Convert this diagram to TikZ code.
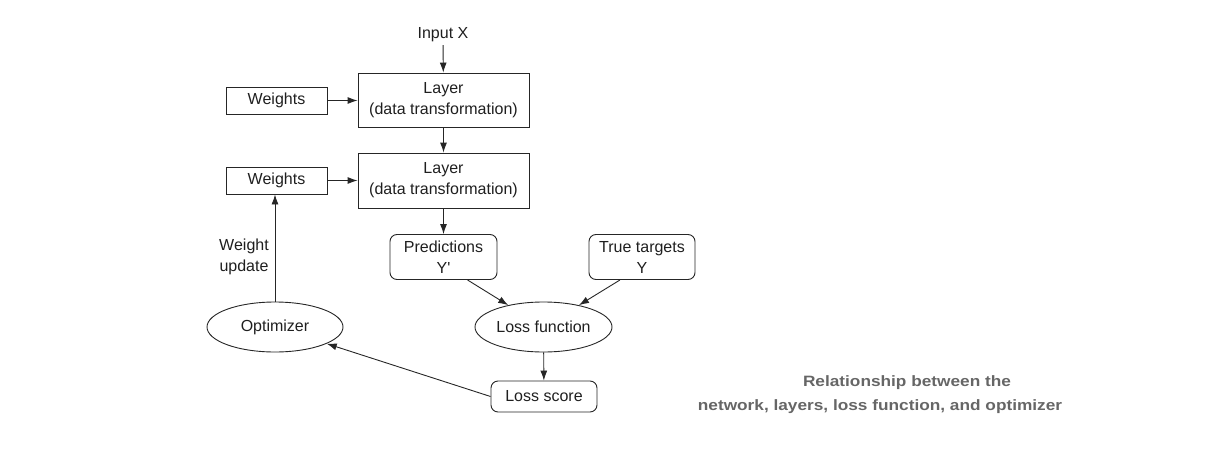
\documentclass[tikz,border=0pt]{standalone}
\usepackage{fontspec}
\usepackage{graphicx}
\setmainfont{Liberation Sans}[Ligatures=TeXOff]
\usetikzlibrary{arrows.meta,shapes.geometric}
\begin{document}
\begin{tikzpicture}[x=1pt,y=-1pt,
  every node/.style={font=\fontsize{16}{21}\selectfont, text=black!88},
  box/.style={draw=black!85, line width=0.9pt, inner sep=0pt, align=center},
  rbox/.style={box, rounded corners=7pt},
  oval/.style={draw=black!85, ellipse, line width=0.9pt, inner sep=0pt, align=center},
  arr/.style={draw=black!85, -{Latex[length=10pt,width=7pt]}, line width=0.9pt},
  capstyle/.style={font=\fontsize{15}{18}\selectfont\bfseries, text=black!60}
]
\useasboundingbox (0,0) rectangle (1211,466);
\node (in) at (443,34.5) {Input X};
\node[box, minimum width=171pt, minimum height=54pt] (l1) at (443.5,100) {Layer\\(data transformation)};
\node[box, minimum width=171pt, minimum height=55pt] (l2) at (443.5,180.5) {Layer\\(data transformation)};
\node[box, minimum width=101pt, minimum height=27pt] (w1) at (276.5,100.5) {Weights};
\node[box, minimum width=101pt, minimum height=27pt] (w2) at (276.5,180.5) {Weights};
\node[rbox, minimum width=107pt, minimum height=45pt] (pred) at (443.5,257) {Predictions\\Y'};
\node[rbox, minimum width=106pt, minimum height=45pt] (tt) at (642,257) {True targets\\Y};
\node[oval, minimum width=136pt, minimum height=50pt] (opt) at (275,327) {Optimizer};
\node[oval, minimum width=137pt, minimum height=50pt] (lf) at (543.5,327) {Loss function};
\node[rbox, minimum width=106pt, minimum height=31pt] (ls) at (544,396.5) {Loss score};
\node[align=center] (wu) at (244,257) {Weight\\update};
\node[capstyle] (c1) at (907,383) {\scalebox{1.15}[1]{Relationship between the}};
\node[capstyle] (c2) at (880,407) {\scalebox{1.15}[1]{network, layers, loss function, and optimizer}};

\draw[arr] (in) -- (l1);
\draw[arr] (w1) -- (l1.west |- w1);
\draw[arr] (w2) -- (l2.west |- w2);
\draw[arr] (l1) -- (l2);
\draw[arr] (l2) -- (pred);
\draw[arr] (opt.north) -- (opt.north |- w2.south);
\draw[arr] ([xshift=24pt]pred.south) -- (lf);
\draw[arr] ([xshift=-22pt]tt.south) -- (lf);
\draw[arr] (lf) -- (ls);
\draw[arr] (ls.west) -- (opt);
\end{tikzpicture}
\end{document}
